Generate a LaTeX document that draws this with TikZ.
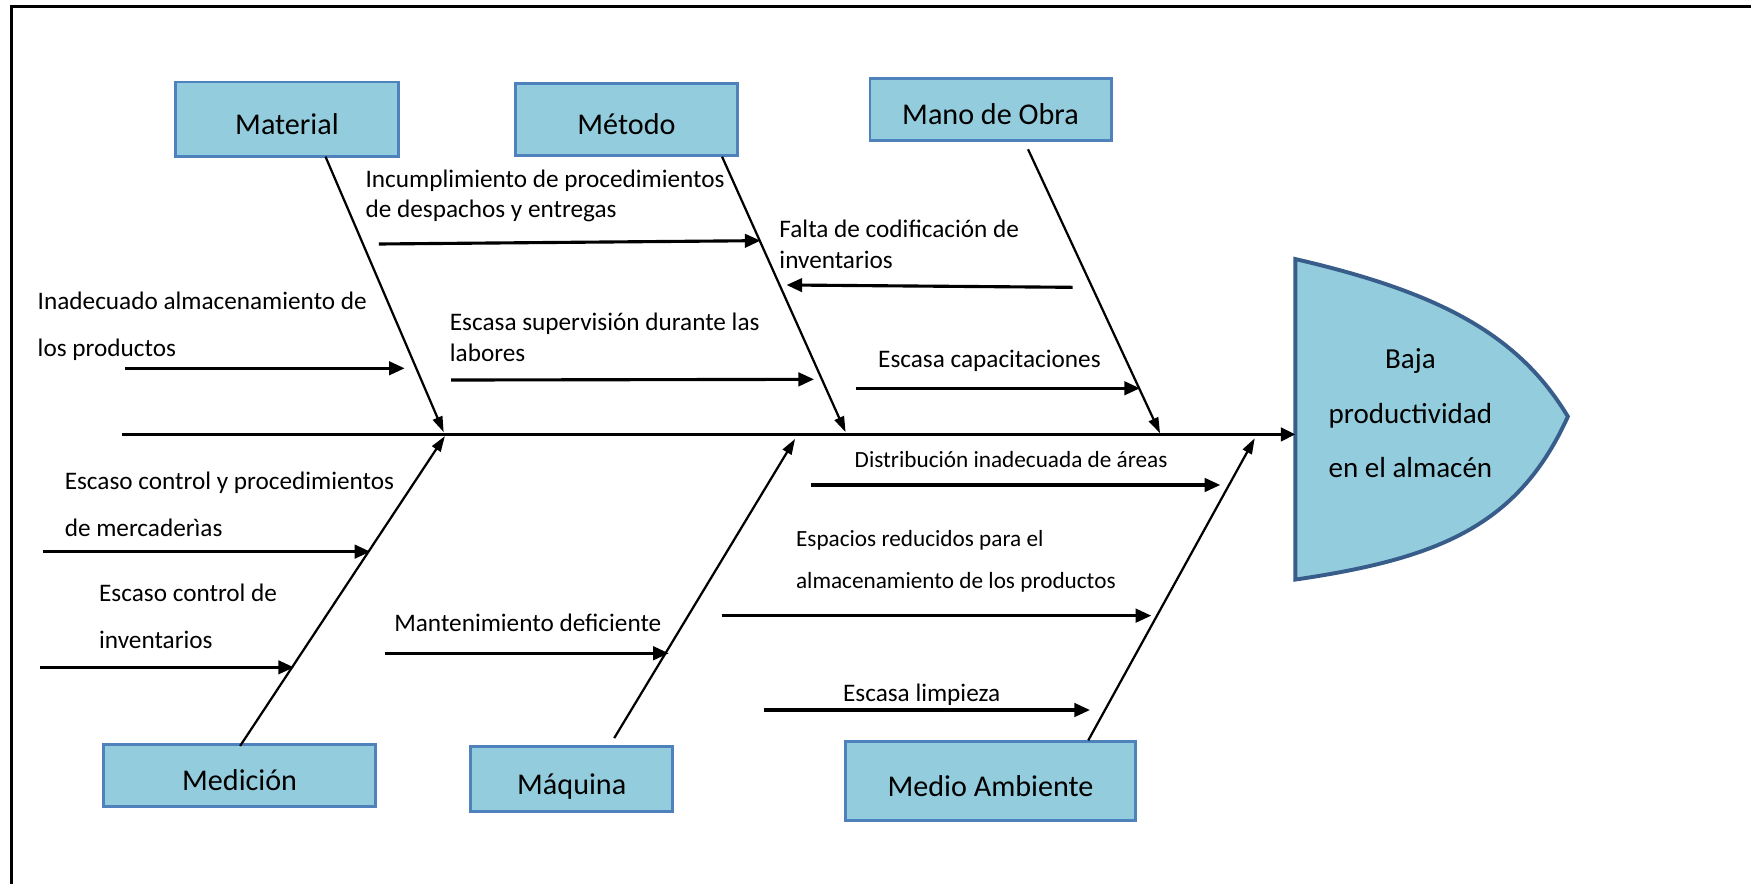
\documentclass[tikz,border=0pt]{standalone}
\usepackage{fontspec}
\setmainfont{Carlito}
\usetikzlibrary{arrows.meta}
\definecolor{boxfill}{RGB}{147,205,221}
\definecolor{boxline}{RGB}{79,129,189}
\definecolor{headline}{RGB}{56,93,138}

\begin{document}
\begin{tikzpicture}[x=0.5pt,y=-0.5pt,
  catbox/.style={draw=boxline, line width=1.25pt, fill=boxfill, inner sep=0pt},
  boxtext/.style={font=\fontsize{13.5}{16}\selectfont, inner sep=0pt,
    text height=9pt, text depth=2.5pt, yshift=-3.6pt},
  headtext/.style={font=\fontsize{13}{24.5}\selectfont, align=center, inner sep=0pt},
  cause/.style={font=\fontsize{11.3}{13}\selectfont, anchor=base west, inner sep=0pt},
  smallcause/.style={font=\fontsize{10.4}{12}\selectfont, anchor=base west, inner sep=0pt},
  bone/.style={line width=1pt, -{Triangle[length=7pt,width=4.5pt]}},
  twig/.style={line width=1.4pt, -{Triangle[length=7pt,width=6pt]}},
  spine/.style={line width=1.4pt, -{Triangle[length=6.5pt,width=6pt]}}]

\useasboundingbox (0,0) rectangle (1568,791);

% outer frame
\draw[line width=1.5pt] (10.3,820) -- (10.3,6) -- (1600,6);

% effect (fish head)
\draw[headline, line width=1.75pt, fill=boxfill]
  (1160,232) .. controls (1290,262) and (1360,300) .. (1404,373)
  .. controls (1360,470) and (1290,500) .. (1160,519) -- cycle;
\node[headtext] (effect) at (1263,370) {Baja\\productividad\\en el almacén};

% category boxes
\node[catbox, minimum width=100pt, minimum height=33.5pt,
  label={[boxtext]center:Material}] (material) at (257,107) {};
\node[catbox, minimum width=99.5pt, minimum height=32.5pt,
  label={[boxtext]center:Método}] (metodo) at (561,107) {};
\node[catbox, minimum width=108pt, minimum height=28pt,
  label={[boxtext]center:Mano de Obra}] (manoobra) at (887,98) {};
\node[catbox, minimum width=122pt, minimum height=27.5pt,
  label={[boxtext]center:Medición}] (medicion) at (214.6,694.5) {};
\node[catbox, minimum width=90.5pt, minimum height=29pt,
  label={[boxtext]center:Máquina}] (maquina) at (512,697.7) {};
\node[catbox, minimum width=130pt, minimum height=35.5pt,
  label={[boxtext]center:Medio Ambiente}] (medioamb) at (887,699.5) {};

% spine
\coordinate (spineA) at (109,389);
\coordinate (spineB) at (1160,389);
\draw[spine] (spineA) -- (spineB);

% main bones
\coordinate (matA) at (291.5,140.3);  \coordinate (matB) at (397.3,387);
\coordinate (metA) at (646.6,140.3);  \coordinate (metB) at (757.2,387);
\coordinate (manA) at (920.6,133.7);  \coordinate (manB) at (1038.8,388);
\coordinate (medA) at (215,668);      \coordinate (medB) at (398.4,390.5);
\coordinate (maqA) at (550,661);      \coordinate (maqB) at (712,393);
\coordinate (ambA) at (974.5,663);    \coordinate (ambB) at (1123.6,392.5);
\draw[bone] (matA) -- (matB);
\draw[bone] (metA) -- (metB);
\draw[bone] (manA) -- (manB);
\draw[bone] (medA) -- (medB);
\draw[bone] (maqA) -- (maqB);
\draw[bone] (ambA) -- (ambB);

% causes: labels
\node[cause] (inc1) at (327,168) {Incumplimiento de procedimientos};
\node[cause] (inc2) at (327,195) {de despachos y entregas};
\node[cause] (fal1) at (697.6,213) {Falta de codificación de};
\node[cause] (fal2) at (697.6,240) {inventarios};
\node[cause] (ina1) at (33.4,277) {Inadecuado almacenamiento de};
\node[cause] (ina2) at (33.4,319) {los productos};
\node[cause] (sup1) at (402.5,296) {Escasa supervisión durante las};
\node[cause] (sup2) at (402.5,323.4) {labores};
\node[cause] (cap) at (786,329.5) {Escasa capacitaciones};
\node[cause] (ecp1) at (57.6,438.3) {Escaso control y procedimientos};
\node[cause] (ecp2) at (57.6,480.1) {de mercaderìas};
\node[cause] (eci1) at (88.4,538.3) {Escaso control de};
\node[cause] (eci2) at (88.4,580.7) {inventarios};
\node[cause] (man) at (352.7,565.2) {Mantenimiento deficiente};
\node[smallcause] (dis) at (765,418.5) {Distribución inadecuada de áreas};
\node[smallcause] (esp1) at (712.5,489.5) {Espacios reducidos para el};
\node[smallcause] (esp2) at (712.5,527.4) {almacenamiento de los productos};
\node[cause] (lim) at (754.6,627.9) {Escasa limpieza};

% causes: arrows onto the bones
\coordinate (incA) at (339.3,218.5);  \coordinate (incB) at (681,215.5);
\coordinate (falA) at (960.6,257.3);  \coordinate (falB) at (704.3,255.2);
\coordinate (inaA) at (112,329.8);    \coordinate (inaB) at (362.4,329.8);
\coordinate (supA) at (404,340.3);    \coordinate (supB) at (729,339.7);
\coordinate (capA) at (766.3,347.7);  \coordinate (capB) at (1020.8,347.7);
\coordinate (ecpA) at (38.5,494);     \coordinate (ecpB) at (331.6,494);
\coordinate (eciA) at (36,597.6);     \coordinate (eciB) at (263.2,597.6);
\coordinate (manA2) at (344.4,585);   \coordinate (manB2) at (598.9,585);
\coordinate (disA) at (725.9,434.3);  \coordinate (disB) at (1092.8,434.3);
\coordinate (espA) at (646.2,551.3);  \coordinate (espB) at (1031,551.3);
\coordinate (limA) at (683.7,635.8);  \coordinate (limB) at (976.1,635.8);
\draw[twig] (incA) -- (incB);
\draw[twig] (falA) -- (falB);
\draw[twig] (inaA) -- (inaB);
\draw[twig] (supA) -- (supB);
\draw[twig] (capA) -- (capB);
\draw[twig] (ecpA) -- (ecpB);
\draw[twig] (eciA) -- (eciB);
\draw[twig] (manA2) -- (manB2);
\draw[twig] (disA) -- (disB);
\draw[twig] (espA) -- (espB);
\draw[twig] (limA) -- (limB);

\end{tikzpicture}
\end{document}
